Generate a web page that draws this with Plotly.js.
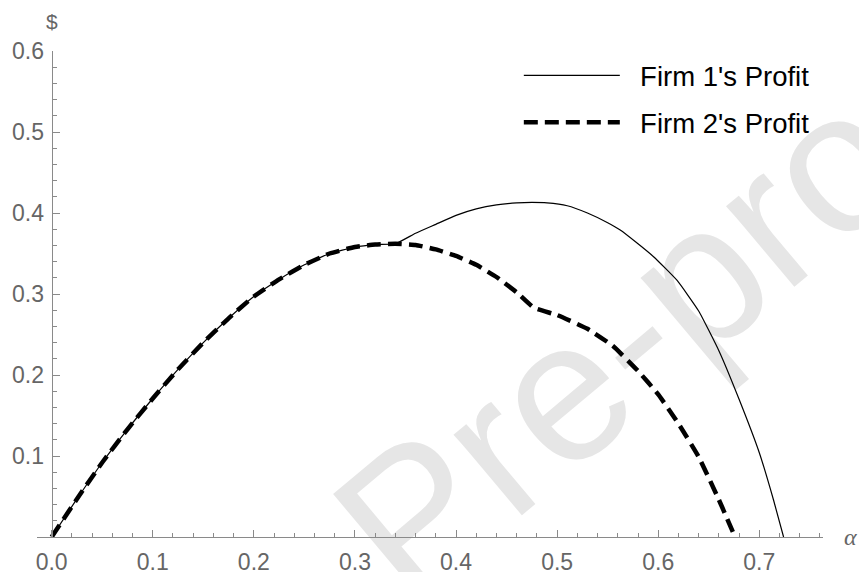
<!DOCTYPE html>
<html>
<head>
<meta charset="utf-8">
<script src="https://cdn.plot.ly/plotly-3.0.1.min.js"></script>
<style>
  html, body { margin: 0; padding: 0; background: #ffffff; }
  #wrap { position: relative; width: 859px; height: 572px; overflow: hidden; }
  #wm { position: absolute; left: 0; top: 0; z-index: 0; }
  #chart { position: absolute; left: 0; top: 0; width: 859px; height: 572px; z-index: 1; }
</style>
</head>
<body>
<div id="wrap">
  <svg id="wm" width="859" height="572" xmlns="http://www.w3.org/2000/svg">
    <text x="409" y="610" transform="rotate(-40 409 610)" font-family="Liberation Sans, Arial, sans-serif" font-size="200" fill="#e6e6e6">Pre-proof</text>
  </svg>
  <div id="chart"></div>
</div>
<script>
// Firm 1's profit (solid thin line)
const firm1Alpha = [0, 0.025, 0.05, 0.075, 0.1, 0.125, 0.15, 0.175, 0.2, 0.225, 0.25, 0.275, 0.3, 0.32, 0.34,
                    0.36, 0.38, 0.40, 0.42, 0.44, 0.46, 0.475, 0.49, 0.51, 0.53, 0.55, 0.5624, 0.58, 0.5954,
                    0.6185, 0.64, 0.66, 0.68, 0.70, 0.714, 0.724];
const firm1Profit = [0, 0.047, 0.092, 0.133, 0.171, 0.207, 0.240, 0.270, 0.297, 0.318, 0.336, 0.350, 0.358, 0.361, 0.362,
                     0.375, 0.386, 0.397, 0.405, 0.410, 0.4125, 0.413, 0.4125, 0.409, 0.400, 0.388, 0.379, 0.362, 0.346,
                     0.317, 0.279, 0.230, 0.170, 0.104, 0.046, 0];

// Firm 2's profit (thick dashed line)
const firm2Alpha = [0, 0.025, 0.05, 0.075, 0.1, 0.125, 0.15, 0.175, 0.2, 0.225, 0.25, 0.275, 0.3, 0.32, 0.34,
                    0.36, 0.38, 0.40, 0.42, 0.44, 0.46, 0.477, 0.50, 0.53, 0.555, 0.58, 0.60, 0.62, 0.64, 0.66, 0.676];
const firm2Profit = [0, 0.047, 0.092, 0.133, 0.171, 0.207, 0.240, 0.270, 0.297, 0.318, 0.336, 0.350, 0.358, 0.361, 0.362,
                     0.3605, 0.355, 0.347, 0.336, 0.321, 0.302, 0.283, 0.274, 0.257, 0.236, 0.205, 0.176, 0.140, 0.099, 0.046, 0];

const seriesNames = ["Firm 1's Profit", "Firm 2's Profit"];
const xTickVals = [0, 0.1, 0.2, 0.3, 0.4, 0.5, 0.6, 0.7];
const xTickText = ["0.0", "0.1", "0.2", "0.3", "0.4", "0.5", "0.6", "0.7"];
const yTickVals = [0.1, 0.2, 0.3, 0.4, 0.5, 0.6];
const yTickText = ["0.1", "0.2", "0.3", "0.4", "0.5", "0.6"];
const xLabel = "α";
const yLabel = "$";

const FONT = "Liberation Sans, Arial, Helvetica, sans-serif";
const AXC = "#8a8a8a";
const LBC = "#666666";
const GAP = "\u00A0\u00A0";

const traces = [
  {
    x: firm1Alpha, y: firm1Profit, name: GAP + seriesNames[0], type: "scatter", mode: "lines",
    line: { color: "#000000", width: 1.2, shape: "spline", smoothing: 0.4 }, legendgroup: "g1"
  },
  {
    x: firm2Alpha, y: firm2Profit, name: GAP + seriesNames[1], type: "scatter", mode: "lines",
    line: { color: "#000000", width: 4.5, dash: "14px,7px", shape: "spline", smoothing: 0.4 }, legendgroup: "g2"
  }
];

const xMin = -0.0145, xMax = 0.763;
const yAxisPos = (0 - xMin) / (xMax - xMin);
const layout = {
  width: 859, height: 572,
  margin: { l: 37, r: 36, t: 51, b: 35 },
  paper_bgcolor: "rgba(0,0,0,0)",
  plot_bgcolor: "rgba(0,0,0,0)",
  font: { family: FONT, color: LBC },
  showlegend: true,
  legend: {
    x: 0.613, y: 1.0, xanchor: "left", yanchor: "top",
    font: { family: FONT, size: 27.5, color: "#000000" },
    bgcolor: "rgba(0,0,0,0)", itemwidth: 96, tracegroupgap: 8
  },
  xaxis: {
    range: [xMin, xMax], showgrid: false, zeroline: false,
    showline: true, linecolor: AXC, linewidth: 1,
    ticks: "inside", ticklen: 7, tickcolor: AXC, tickwidth: 1,
    tickvals: xTickVals, ticktext: xTickText, ticklabelstandoff: 4,
    tickfont: { family: FONT, size: 23, color: LBC },
    minor: { ticks: "inside", ticklen: 4, tickcolor: AXC, tick0: 0, dtick: 0.02, showgrid: false }
  },
  yaxis: {
    range: [0, 0.6], showgrid: false, zeroline: false,
    anchor: "free", position: yAxisPos,
    showline: true, linecolor: AXC, linewidth: 1,
    ticks: "inside", ticklen: 7, tickcolor: AXC, tickwidth: 1,
    tickvals: yTickVals, ticktext: yTickText, ticklabelstandoff: 3,
    tickfont: { family: FONT, size: 23, color: LBC },
    minor: { ticks: "inside", ticklen: 4, tickcolor: AXC, tick0: 0, dtick: 0.02, showgrid: false }
  },
  annotations: [
    { text: "<i>" + xLabel + "</i>", xref: "paper", yref: "paper", x: 1.035, y: 0, xanchor: "center", yanchor: "middle",
      showarrow: false, font: { family: "Liberation Serif, serif", size: 24, color: LBC } },
    { text: yLabel, xref: "paper", yref: "paper", x: yAxisPos, y: 1.06, xanchor: "center", yanchor: "middle",
      showarrow: false, font: { family: FONT, size: 21, color: LBC } }
  ]
};

Plotly.newPlot("chart", traces, layout, { displayModeBar: false, staticPlot: true });
</script>
</body>
</html>
